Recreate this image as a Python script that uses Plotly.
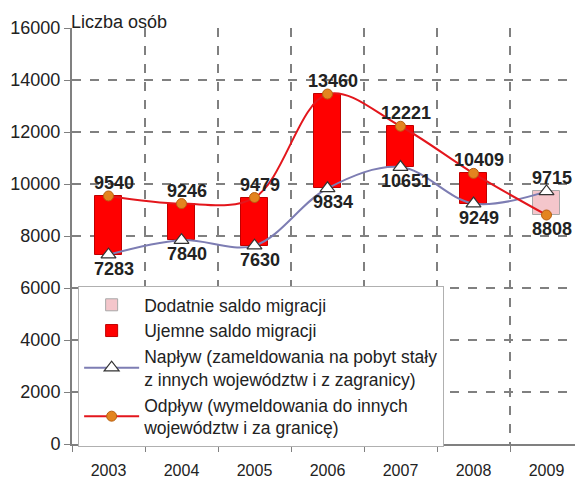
import plotly.graph_objects as go

years = ["2003", "2004", "2005", "2006", "2007", "2008", "2009"]
inflow = [7283, 7840, 7630, 9834, 10651, 9249, 9715]
outflow = [9540, 9246, 9479, 13460, 12221, 10409, 8808]
y_ticks = [0, 2000, 4000, 6000, 8000, 10000, 12000, 14000, 16000]

FONT = "Arial, Liberation Sans, sans-serif"

neg_x, neg_base, neg_h = [], [], []
pos_x, pos_base, pos_h = [], [], []
for yr, i, o in zip(years, inflow, outflow):
    if o > i:
        neg_x.append(yr); neg_base.append(i); neg_h.append(o - i)
    else:
        pos_x.append(yr); pos_base.append(o); pos_h.append(i - o)

fig = go.Figure()
fig.add_trace(go.Bar(
    x=pos_x, y=pos_h, base=pos_base, width=0.37,
    name="Dodatnie saldo migracji",
    marker=dict(color="#f4c6cb", line=dict(color="#a8a8a8", width=1)),
))
fig.add_trace(go.Bar(
    x=neg_x, y=neg_h, base=neg_base, width=0.37,
    name="Ujemne saldo migracji",
    marker=dict(color="#ff0000", line=dict(color="#c00000", width=1)),
))
fig.add_trace(go.Scatter(
    x=years, y=inflow, mode="lines+markers",
    name="Napływ (zameldowania na pobyt stały<br>z innych województw i z zagranicy)",
    line=dict(color="#7d7db3", width=2, shape="spline", smoothing=1.0),
    marker=dict(symbol="triangle-up", size=13, color="white",
                line=dict(color="#333333", width=1.2)),
))
fig.add_trace(go.Scatter(
    x=years, y=outflow, mode="lines+markers",
    name="Odpływ (wymeldowania do innych<br>województw i za granicę)",
    line=dict(color="#e3161c", width=2, shape="spline", smoothing=1.0),
    marker=dict(symbol="circle", size=10, color="#e3841f",
                line=dict(color="#b85f10", width=1)),
))

annotations = []
for idx, (i, o) in enumerate(zip(inflow, outflow)):
    up_o = o >= i
    annotations.append(dict(x=idx, y=o, xref="x", yref="y", text=f"<b>{o}</b>",
                            showarrow=False, xshift=5, yshift=13 if up_o else -14,
                            font=dict(family=FONT, size=18, color="#222222")))
    annotations.append(dict(x=idx, y=i, xref="x", yref="y", text=f"<b>{i}</b>",
                            showarrow=False, xshift=5, yshift=-14 if up_o else 13,
                            font=dict(family=FONT, size=18, color="#222222")))
annotations.append(dict(xref="paper", yref="paper", x=0, y=1, xanchor="left",
                        yanchor="middle", xshift=-3, yshift=6, text="Liczba osób",
                        showarrow=False,
                        font=dict(family=FONT, size=18, color="#222222")))

fig.update_layout(
    width=575, height=478,
    margin=dict(l=64, r=0, t=20, b=42),
    paper_bgcolor="white", plot_bgcolor="white",
    barmode="overlay", bargap=0,
    font=dict(family=FONT, size=18, color="#222222"),
    showlegend=True,
    legend=dict(x=0.012, y=0.38, xanchor="left", yanchor="top",
                bgcolor="white", bordercolor="#b0b0b0", borderwidth=1,
                font=dict(family=FONT, size=17.5, color="#222222"),
                itemwidth=55, tracegroupgap=0),
    annotations=annotations,
)
fig.update_xaxes(
    type="category", categoryorder="array", categoryarray=years,
    range=[-0.5, 6.5], tickson="boundaries", ticks="outside", ticklen=6,
    tickcolor="#808080", showgrid=True, gridcolor="#808080", griddash="dash",
    gridwidth=1.5, showline=True, linecolor="#808080", linewidth=2,
    tickfont=dict(family=FONT, size=16, color="#222222"), ticklabelstandoff=11,
    automargin=False,
)
fig.update_yaxes(
    range=[0, 16000], tickvals=y_ticks, ticktext=[str(v) for v in y_ticks],
    ticks="outside", ticklen=6,
    tickcolor="#808080", showgrid=True, gridcolor="#808080", griddash="dash",
    gridwidth=1.5, showline=True, linecolor="#808080", linewidth=2,
    zeroline=False, tickfont=dict(family=FONT, size=18, color="#222222"),
    automargin=False,
)
fig.write_html("out.html")
